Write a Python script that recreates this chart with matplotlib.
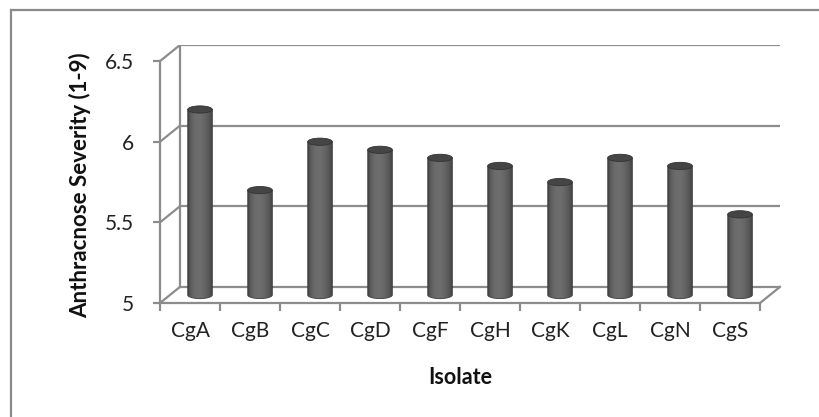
"""
Anthracnose severity by isolate, Excel-style 3D cylinder chart.
"""

import numpy as np
import matplotlib
matplotlib.use('Agg')
import matplotlib.pyplot as plt
from matplotlib.patches import Ellipse, PathPatch
from matplotlib.path import Path
from matplotlib.lines import Line2D

plt.rcParams['font.family'] = ['Lato', 'DejaVu Sans']

isolates = ['CgA', 'CgB', 'CgC', 'CgD', 'CgF', 'CgH', 'CgK', 'CgL', 'CgN', 'CgS']
severity = [6.15, 5.65, 5.95, 5.9, 5.85, 5.8, 5.7, 5.85, 5.8, 5.5]
y_ticks = [5, 5.5, 6, 6.5]

GRID = '#8c8c8c'
DX, DY = 0.333, 0.1     # depth offset of the back wall in data units
BAR_W = 0.41
ELL_H = 0.045


def cylinder_path(x0, w, y0, y1, eh):
    """Body outline: rectangle with a rounded (half-ellipse) bottom."""
    t = np.linspace(np.pi, 2 * np.pi, 40)
    cx = x0 + w / 2
    bx = cx + (w / 2) * np.cos(t)
    by = y0 + (eh / 2) * np.sin(t)
    verts = [(x0, y1)] + list(zip(bx, by)) + [(x0 + w, y1), (x0, y1)]
    codes = [Path.MOVETO] + [Path.LINETO] * (len(verts) - 2) + [Path.CLOSEPOLY]
    return Path(verts, codes)


fig = plt.figure(figsize=(8.19, 4.17), dpi=100)
fig.patch.set_facecolor('white')
ax = fig.add_axes([160 / 819, 114 / 417, 620 / 819, 258 / 417])
n = len(isolates)
for s in ax.spines.values():
    s.set_visible(False)

# walls: back gridlines, side diagonals, floor
ymin = y_ticks[0]
ytop = y_ticks[-1]
for v in y_ticks:
    ax.plot([DX, n + DX], [v + DY, v + DY], color=GRID, lw=1.6, zorder=1)
    ax.plot([0, DX], [v, v + DY], color=GRID, lw=1.6, zorder=1)
ax.plot([DX, DX], [ymin + DY, ytop + DY], color=GRID, lw=1.6, zorder=1)
ax.plot([0, 0], [ymin, ytop], color=GRID, lw=1.6, zorder=4, clip_on=False)
ax.plot([0, n], [ymin, ymin], color=GRID, lw=1.6, zorder=4, clip_on=False)
ax.plot([n, n + DX], [ymin, ymin + DY], color=GRID, lw=1.6, zorder=4, clip_on=False)

# shading across a cylinder
t = np.linspace(0, 1, 64)
shade = 0.24 + 0.19 * np.sin(np.pi * t ** 0.8) ** 0.7
grad = shade[np.newaxis, :]

base = ymin + DY / 2
for i, v in enumerate(severity):
    cx = i + 0.5 + DX / 2
    x0 = cx - BAR_W / 2
    top = v + DY / 2
    body = PathPatch(cylinder_path(x0, BAR_W, base, top, ELL_H),
                     facecolor='none', edgecolor='#3a3a3a', lw=0.6, zorder=3)
    ax.add_patch(body)
    im = ax.imshow(grad, extent=(x0, x0 + BAR_W, base - ELL_H, top),
                   cmap='gray', vmin=0, vmax=1, aspect='auto',
                   interpolation='bilinear', zorder=2)
    im.set_clip_path(body)
    ax.add_patch(Ellipse((cx, top), BAR_W, ELL_H, facecolor='#454545',
                         edgecolor='#333333', lw=0.6, zorder=4))

ax.set_xlim(0, n + DX)
ax.set_ylim(5, 6.5 + DY)

# ticks
ax.set_yticks(y_ticks)
ax.set_yticklabels(['5', '5.5', '6', '6.5'])
ax.tick_params(axis='y', direction='out', length=5, width=1.6, color=GRID,
               pad=14, labelsize=15, labelcolor='#222222')
ax.set_xticks(np.arange(n) + 0.5)
ax.set_xticklabels(isolates)
ax.set_xticks(np.arange(n + 1), minor=True)
ax.tick_params(axis='x', which='major', length=0, pad=13, labelsize=15,
               labelcolor='#222222')
ax.tick_params(axis='x', which='minor', direction='out', length=6, width=1.6,
               color=GRID)

fig.text(460 / 819, 1 - 378 / 417, 'Isolate', ha='center', va='center',
         fontsize=15.5, fontweight='bold', color='#111111')
fig.text(80 / 819, 1 - 185 / 417, 'Anthracnose Severity (1-9)', ha='center',
         va='center', rotation=90, fontsize=16, fontweight='bold', color='#111111')

# chart area frame (left and top edges visible)
fig.add_artist(Line2D([11 / 819, 11 / 819], [0, 1 - 10 / 417],
                      transform=fig.transFigure, color='#8a8a8a', lw=1.6))
fig.add_artist(Line2D([11 / 819, 1], [1 - 10 / 417, 1 - 10 / 417],
                      transform=fig.transFigure, color='#8a8a8a', lw=1.6))

fig.savefig('out.png', dpi=100, facecolor='white')
